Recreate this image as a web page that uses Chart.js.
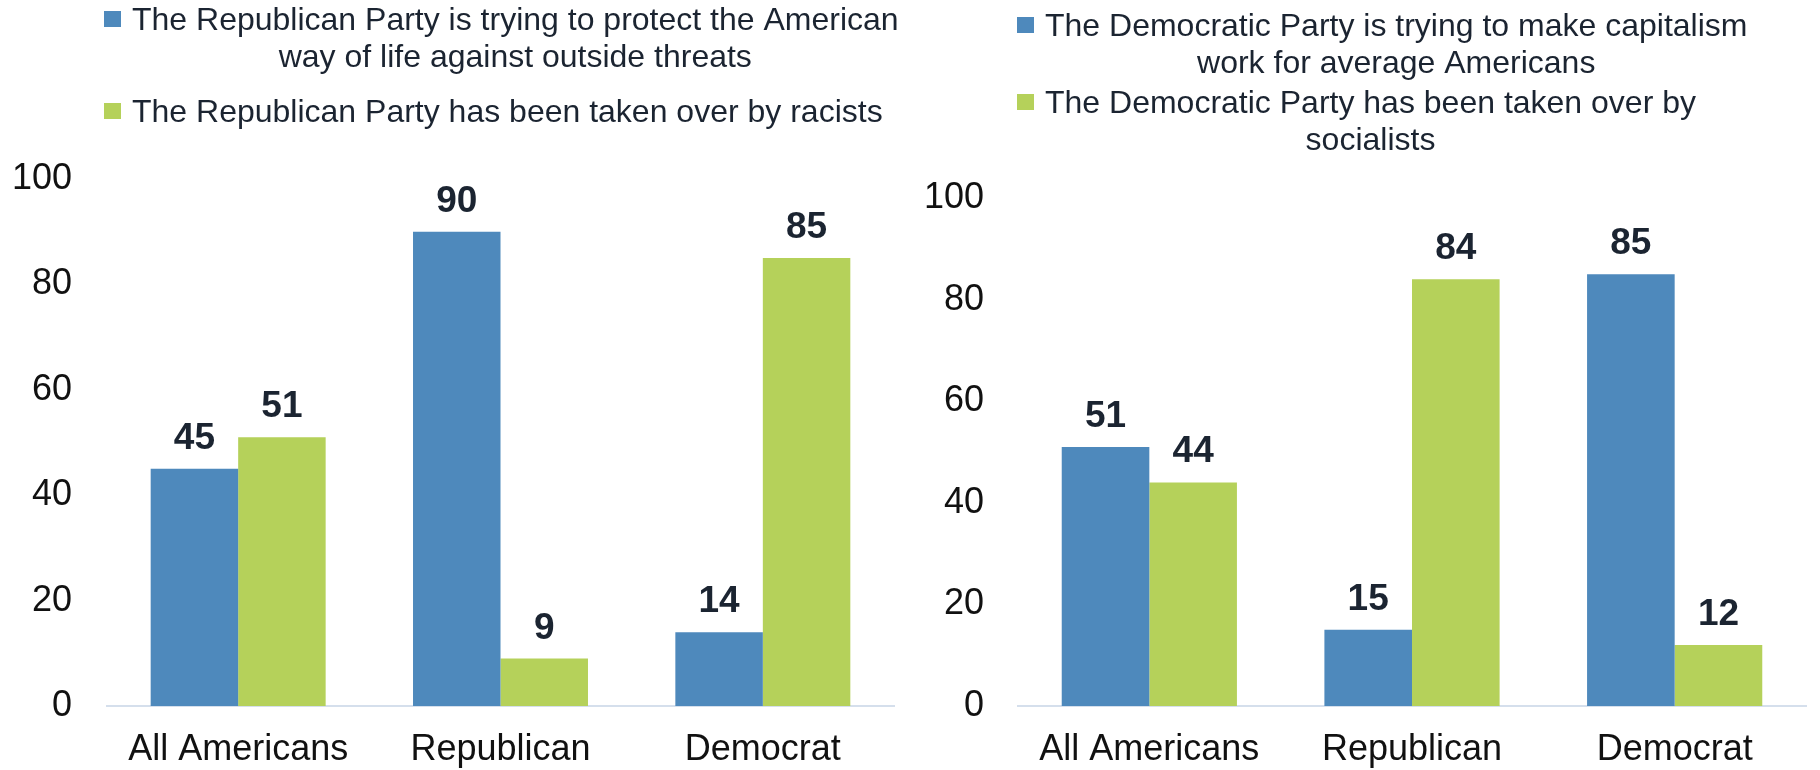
<!DOCTYPE html>
<html>
<head>
<meta charset="utf-8">
<script src="https://cdn.jsdelivr.net/npm/chart.js@4.4.1/dist/chart.umd.min.js"></script>
<style>
  html, body { margin: 0; padding: 0; background: #fff; overflow: hidden; }
  .wrap { position: absolute; top: 0; width: 910px; height: 770px; }
</style>
</head>
<body>
<div class="wrap" style="left:0"><canvas id="left" width="910" height="770"></canvas></div>
<div class="wrap" style="left:910px"><canvas id="right" width="910" height="770"></canvas></div>
<script>
const categories = ['All Americans', 'Republican', 'Democrat'];
const yTicks = [0, 20, 40, 60, 80, 100];

// left panel: views of the Republican Party
const leftSeriesNames = [
    ['The Republican Party is trying to protect the American', 'way of life against outside threats'],
    ['The Republican Party has been taken over by racists']
];
const leftProtect = [45, 90, 14];
const leftRacists = [51, 9, 85];

// right panel: views of the Democratic Party
const rightSeriesNames = [
    ['The Democratic Party is trying to make capitalism', 'work for average Americans'],
    ['The Democratic Party has been taken over by', 'socialists']
];
const rightCapitalism = [51, 15, 85];
const rightSocialists = [44, 84, 12];

const BLUE = '#4e89bc';
const GREEN = '#b5d15a';
const FONT = '"Liberation Sans", Arial, sans-serif';
const TEXT_DARK = '#1b2431';

// value labels above each bar
const valueLabels = {
    id: 'valueLabels',
    afterDatasetsDraw(chart) {
        const ctx = chart.ctx;
        ctx.save();
        ctx.font = `bold 37px ${FONT}`;
        ctx.fillStyle = TEXT_DARK;
        ctx.textAlign = 'center';
        ctx.textBaseline = 'alphabetic';
        chart.data.datasets.forEach((ds, i) => {
            chart.getDatasetMeta(i).data.forEach((bar, j) => {
                ctx.fillText(String(ds.data[j]), bar.x, bar.y - 20);
            });
        });
        ctx.restore();
    }
};

// legend drawn like the original text box: square + centred wrapped lines
const boxLegend = {
    id: 'boxLegend',
    afterDraw(chart, args, opts) {
        const ctx = chart.ctx;
        ctx.save();
        ctx.font = `32px ${FONT}`;
        ctx.textBaseline = 'alphabetic';
        opts.names.forEach((lines, i) => {
            const base = opts.baselines[i];
            ctx.fillStyle = chart.data.datasets[i].backgroundColor;
            ctx.fillRect(opts.x, base - 19, 17, 16);
            ctx.fillStyle = TEXT_DARK;
            const textX = opts.x + 28;
            const center = textX + ctx.measureText(lines[0]).width / 2;
            lines.forEach((line, k) => {
                if (k === 0) {
                    ctx.textAlign = 'left';
                    ctx.fillText(line, textX, base);
                } else {
                    ctx.textAlign = 'center';
                    ctx.fillText(line, center, base + k * opts.lineGap);
                }
            });
        });
        ctx.restore();
    }
};

function makeChart(id, names, seriesA, seriesB, cfg) {
    const ctx = document.getElementById(id).getContext('2d');
    return new Chart(ctx, {
        type: 'bar',
        data: {
            labels: categories,
            datasets: [
                { label: names[0].join(' '), data: seriesA, backgroundColor: BLUE },
                { label: names[1].join(' '), data: seriesB, backgroundColor: GREEN }
            ]
        },
        options: {
            responsive: false,
            animation: false,
            datasets: {
                bar: { barPercentage: 1, categoryPercentage: 0.667 }
            },
            layout: {
                // x tick padding is counted twice by Chart.js, hence the negative bottom
                padding: { top: cfg.top, left: 0, right: cfg.right, bottom: -25 }
            },
            plugins: {
                legend: { display: false },
                tooltip: { enabled: false },
                boxLegend: { names: names, x: cfg.legendX, baselines: cfg.baselines, lineGap: 37 }
            },
            scales: {
                x: {
                    grid: { display: false, drawTicks: false },
                    border: { display: true, color: '#d5dfec', width: 2 },
                    ticks: {
                        color: '#111',
                        font: { family: FONT, size: 36, lineHeight: 1 },
                        padding: 26.5,
                        autoSkip: false,
                        maxRotation: 0
                    }
                },
                y: {
                    min: yTicks[0],
                    max: yTicks[yTicks.length - 1],
                    grid: { display: false, drawTicks: false },
                    border: { display: false },
                    afterFit: (scale) => { scale.width = cfg.axisLeft; },
                    afterBuildTicks: (scale) => {
                        scale.ticks = yTicks.map(v => ({ value: v }));
                    },
                    ticks: {
                        color: '#111',
                        font: { family: FONT, size: 36 },
                        padding: cfg.tickGap
                    }
                }
            }
        },
        plugins: [valueLabels, boxLegend]
    });
}

makeChart('left', leftSeriesNames, leftProtect, leftRacists, {
    top: 179, right: 16, axisLeft: 107, tickGap: 35, legendX: 104, baselines: [30, 122]
});
makeChart('right', rightSeriesNames, rightCapitalism, rightSocialists, {
    top: 198, right: 14, axisLeft: 108, tickGap: 34, legendX: 107, baselines: [36, 113]
});
</script>
</body>
</html>
